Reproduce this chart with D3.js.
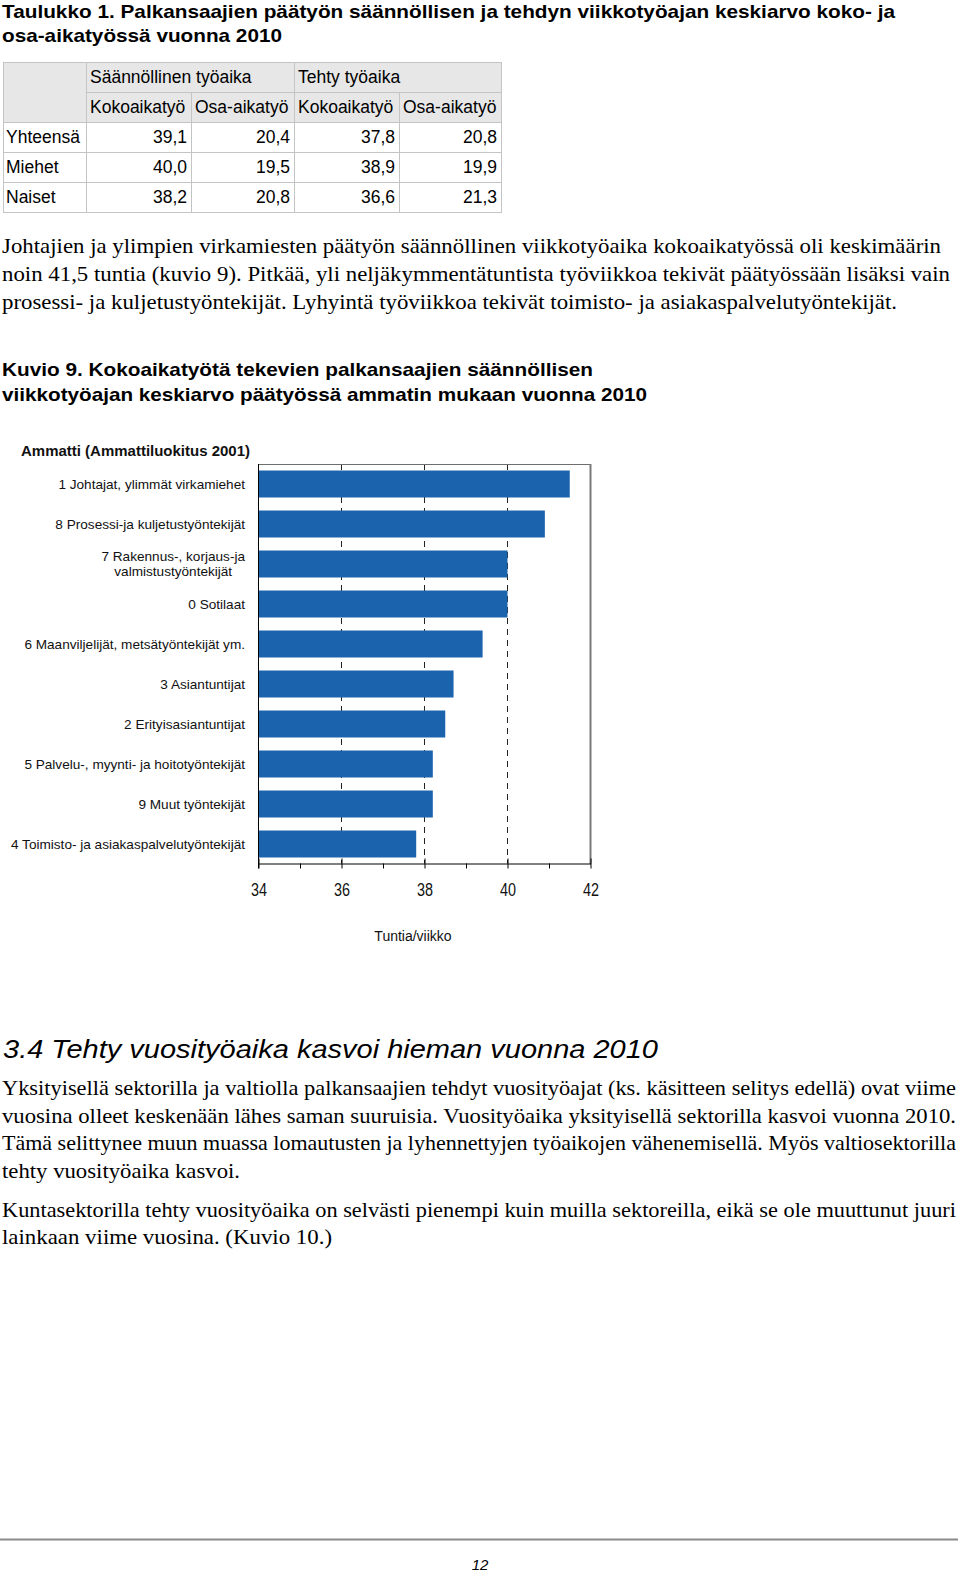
<!DOCTYPE html>
<html><head><meta charset="utf-8">
<script src="https://cdn.jsdelivr.net/npm/d3@7"></script>
<style>body{margin:0;background:#fff} svg{display:block}</style>
</head><body>
<script>
// ---------- data ----------
const titleLines = ["Taulukko 1. Palkansaajien päätyön säännöllisen ja tehdyn viikkotyöajan keskiarvo koko- ja", "osa-aikatyössä vuonna 2010"];
const tableGroups = ["Säännöllinen työaika", "Tehty työaika"];
const tableSubheads = ["Kokoaikatyö", "Osa-aikatyö", "Kokoaikatyö", "Osa-aikatyö"];
const tableRows = ["Yhteensä", "Miehet", "Naiset"];
const regularFull = [39.1, 40.0, 38.2];
const regularPart = [20.4, 19.5, 20.8];
const workedFull = [37.8, 38.9, 36.6];
const workedPart = [20.8, 19.9, 21.3];

const para1 = [
  "Johtajien ja ylimpien virkamiesten päätyön säännöllinen viikkotyöaika kokoaikatyössä oli keskimäärin",
  "noin 41,5 tuntia (kuvio 9). Pitkää, yli neljäkymmentätuntista työviikkoa tekivät päätyössään lisäksi vain",
  "prosessi- ja kuljetustyöntekijät. Lyhyintä työviikkoa tekivät toimisto- ja asiakaspalvelutyöntekijät."
];
const figTitle = ["Kuvio 9. Kokoaikatyötä tekevien palkansaajien säännöllisen", "viikkotyöajan keskiarvo päätyössä ammatin mukaan vuonna 2010"];
const chartTitle = "Ammatti (Ammattiluokitus 2001)";
const occupations = [
  "1 Johtajat, ylimmät virkamiehet",
  "8 Prosessi-ja kuljetustyöntekijät",
  "7 Rakennus-, korjaus-ja\nvalmistustyöntekijät",
  "0 Sotilaat",
  "6 Maanviljelijät, metsätyöntekijät ym.",
  "3 Asiantuntijat",
  "2 Erityisasiantuntijat",
  "5 Palvelu-, myynti- ja hoitotyöntekijät",
  "9 Muut työntekijät",
  "4 Toimisto- ja asiakaspalvelutyöntekijät"
];
const hours = [41.5, 40.9, 40.0, 40.0, 39.4, 38.7, 38.5, 38.2, 38.2, 37.8];
const xTickValues = [34, 36, 38, 40, 42];
const xMinorTickValues = [34, 35, 36, 37, 38, 39, 40, 41, 42];
const xAxisTitle = "Tuntia/viikko";

const heading = "3.4 Tehty vuosityöaika kasvoi hieman vuonna 2010";
const para2 = [
  "Yksityisellä sektorilla ja valtiolla palkansaajien tehdyt vuosityöajat (ks. käsitteen selitys edellä) ovat viime",
  "vuosina olleet keskenään lähes saman suuruisia. Vuosityöaika yksityisellä sektorilla kasvoi vuonna 2010.",
  "Tämä selittynee muun muassa lomautusten ja lyhennettyjen työaikojen vähenemisellä. Myös valtiosektorilla",
  "tehty vuosityöaika kasvoi."
];
const para3 = [
  "Kuntasektorilla tehty vuosityöaika on selvästi pienempi kuin muilla sektoreilla, eikä se ole muuttunut juuri",
  "lainkaan viime vuosina. (Kuvio 10.)"
];
const pageNumber = "12";

// ---------- drawing ----------
const W = 960, H = 1572;
const sans = "'Liberation Sans', Arial, Helvetica, sans-serif";
const serif = "'Liberation Serif', 'Times New Roman', serif";
const svg = d3.select("body").append("svg").attr("width", W).attr("height", H);
svg.append("rect").attr("width", W).attr("height", H).attr("fill", "#fff");

function textLines(arr, o) {
  const g = svg.append("g");
  arr.forEach((t, i) => {
    const el = g.append("text")
      .attr("x", o.x).attr("y", o.y0 + i * o.dy)
      .attr("font-family", o.font).attr("font-size", o.size)
      .attr("font-weight", o.weight || "normal")
      .attr("font-style", o.style || "normal")
      .attr("fill", "#000").text(t);
    if (o.widths && o.widths[i]) el.attr("textLength", o.widths[i]).attr("lengthAdjust", o.adjust || "spacing");
  });
  return g;
}

// Title
textLines(titleLines, {x: 2, y0: 17.5, dy: 24, font: sans, size: 19, weight: "bold", widths: [893, 280], adjust: "spacingAndGlyphs"});

// Table
const colX = [3, 86, 191, 294, 399, 501];
const rowY = [62, 92, 122, 152, 182, 212];
const headBg = "#e7e7e7", border = "#c4c4c4";
const tg = svg.append("g").attr("font-family", sans).attr("font-size", 17.5);
const cells = [];
cells.push({c0: 0, c1: 1, r0: 0, r1: 2, text: "", bg: headBg});
tableGroups.forEach((t, i) => cells.push({c0: 1 + 2 * i, c1: 3 + 2 * i, r0: 0, r1: 1, text: t, bg: headBg, align: "start"}));
tableSubheads.forEach((t, i) => cells.push({c0: 1 + i, c1: 2 + i, r0: 1, r1: 2, text: t, bg: headBg, align: "start"}));
const fmt = v => d3.format(".1f")(v).replace(".", ",");
const cols = [regularFull, regularPart, workedFull, workedPart];
tableRows.forEach((r, ri) => {
  cells.push({c0: 0, c1: 1, r0: 2 + ri, r1: 3 + ri, text: r, bg: "#fff", align: "start"});
  cols.forEach((col, ci) => cells.push({c0: 1 + ci, c1: 2 + ci, r0: 2 + ri, r1: 3 + ri, text: fmt(col[ri]), bg: "#fff", align: "end"}));
});
const cg = tg.selectAll("g.cell").data(cells).join("g");
cg.append("rect")
  .attr("x", d => colX[d.c0] + 0.5).attr("y", d => rowY[d.r0] + 0.5)
  .attr("width", d => colX[d.c1] - colX[d.c0]).attr("height", d => rowY[d.r1] - rowY[d.r0])
  .attr("fill", d => d.bg).attr("stroke", border).attr("stroke-width", 1);
cg.append("text")
  .attr("x", d => d.align === "end" ? colX[d.c1] - 4 : colX[d.c0] + (d.c0 === 0 ? 3 : 4))
  .attr("y", d => rowY[d.r1] - 9.5)
  .attr("text-anchor", d => d.align === "end" ? "end" : "start")
  .attr("fill", "#000")
  .text(d => d.text);

// Paragraph 1
textLines(para1, {x: 2, y0: 252.5, dy: 28, font: serif, size: 21, widths: [939, 948, 895], adjust: "spacingAndGlyphs"});

// Figure title
textLines(figTitle, {x: 2, y0: 376, dy: 25, font: sans, size: 19, weight: "bold", widths: [591, 645], adjust: "spacingAndGlyphs"});

// Chart
const x = d3.scaleLinear().domain([34, 42]).range([258.5, 590.5]);
const y = d3.scaleBand().domain(occupations).range([464, 864]).paddingInner(0.325).paddingOuter(0.1625);
const chart = svg.append("g");

chart.append("text").attr("x", 21).attr("y", 455.5)
  .attr("font-family", sans).attr("font-size", 15).attr("font-weight", "bold")
  .attr("textLength", 229).attr("lengthAdjust", "spacingAndGlyphs")
  .attr("fill", "#111").text(chartTitle);

// gridlines
chart.append("g").selectAll("line").data(xTickValues.slice(1, -1)).join("line")
  .attr("x1", d => x(d)).attr("x2", d => x(d))
  .attr("y1", 464).attr("y2", 863.5)
  .attr("stroke", "#222").attr("stroke-width", 1).attr("stroke-dasharray", "6,5");

// bars
chart.append("g").selectAll("rect").data(occupations).join("rect")
  .attr("x", x(34)).attr("y", d => y(d))
  .attr("width", (d, i) => x(hours[i]) - x(34))
  .attr("height", y.bandwidth())
  .attr("fill", "#1b63ad");

// frame top & right
chart.append("line").attr("x1", x(34)).attr("x2", x(42)).attr("y1", 464.5).attr("y2", 464.5).attr("stroke", "#6e6e6e").attr("stroke-width", 1);
chart.append("line").attr("x1", x(42)).attr("x2", x(42)).attr("y1", 464).attr("y2", 864).attr("stroke", "#7a7a7a").attr("stroke-width", 2);

// left axis line
chart.append("line").attr("x1", x(34)).attr("x2", x(34)).attr("y1", 464).attr("y2", 868.5).attr("stroke", "#000").attr("stroke-width", 1);

// bottom axis
const minorAxis = chart.append("g").attr("transform", "translate(0,863.5)")
  .call(d3.axisBottom(x).tickValues(xMinorTickValues).tickSize(5).tickSizeOuter(0).tickFormat(""));
minorAxis.select(".domain").attr("stroke", "#000");
minorAxis.selectAll(".tick line").attr("stroke", "#000");
const majorAxis = chart.append("g").attr("transform", "translate(0,863.5)")
  .call(d3.axisBottom(x).tickValues(xTickValues).tickSize(-5).tickSizeOuter(0).tickPadding(20));
majorAxis.select(".domain").remove();
majorAxis.selectAll(".tick line").attr("stroke", "#000");
majorAxis.selectAll(".tick text")
  .attr("font-family", sans).attr("font-size", 18).attr("fill", "#111")
  .attr("textLength", 16).attr("lengthAdjust", "spacingAndGlyphs");

// category labels
const lab = chart.append("g").attr("font-family", sans).attr("font-size", 13.6).attr("fill", "#111");
occupations.forEach(c => {
  const parts = c.split("\n");
  const t = lab.append("text").attr("y", y(c) + y.bandwidth() / 2);
  const off = (parts.length - 1) * 15.5 / 2;
  const ts = parts.map((p, i) => t.append("tspan").attr("dy", i === 0 ? (-off + 4.5) : 15.5).text(p));
  if (parts.length === 1) {
    t.attr("text-anchor", "end"); ts[0].attr("x", 245);
  } else {
    const mw = d3.max(ts, s => s.node().getComputedTextLength());
    t.attr("text-anchor", "middle");
    ts.forEach(s => s.attr("x", 245 - mw / 2));
  }
});

chart.append("text").attr("x", 413).attr("y", 941)
  .attr("font-family", sans).attr("font-size", 14).attr("text-anchor", "middle").attr("fill", "#111")
  .text(xAxisTitle);

// Heading 3.4
textLines([heading], {x: 3, y0: 1058, dy: 0, font: sans, size: 26, style: "italic", widths: [655], adjust: "spacingAndGlyphs"});

// Paragraph 2 & 3
textLines(para2, {x: 2, y0: 1095, dy: 27.5, font: serif, size: 21, widths: [954, 954, 954, 238], adjust: "spacingAndGlyphs"});
textLines(para3, {x: 2, y0: 1217, dy: 27, font: serif, size: 21, widths: [954, 330], adjust: "spacingAndGlyphs"});

// Footer
svg.append("line").attr("x1", 0).attr("x2", 958).attr("y1", 1539.5).attr("y2", 1539.5).attr("stroke", "#8a8a8a").attr("stroke-width", 2);
svg.append("text").attr("x", 480).attr("y", 1570).attr("text-anchor", "middle")
  .attr("font-family", sans).attr("font-size", 15).attr("font-style", "italic").attr("fill", "#000")
  .text(pageNumber);
</script>
</body></html>
